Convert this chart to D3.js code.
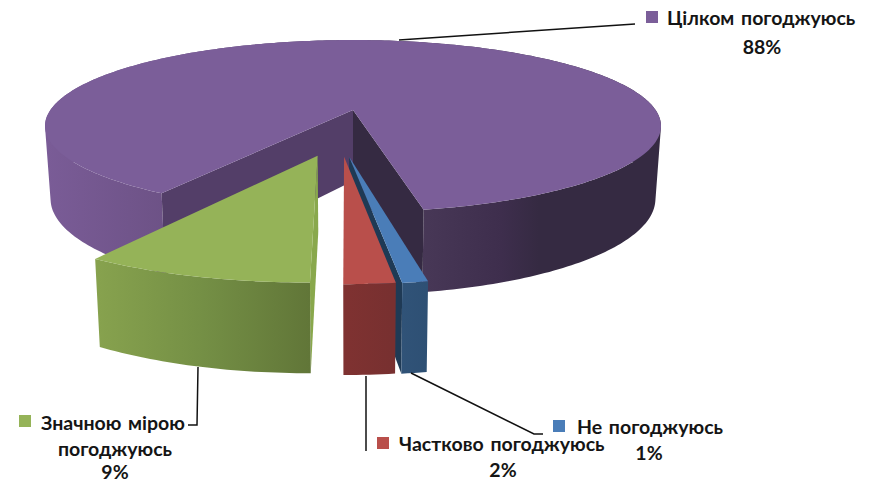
<!DOCTYPE html>
<html>
<head>
<meta charset="utf-8">
<script src="https://cdn.jsdelivr.net/npm/d3@7"></script>
<style>
  html, body { margin: 0; padding: 0; background: #fff; }
  text { font-family: Lato, "Open Sans", sans-serif; font-weight: 700; font-size: 19.5px; word-spacing: 2px; fill: #151515; }
</style>
</head>
<body>
<div id="chart"></div>
<script>
var categories = ["Цілком погоджуюсь", "Не погоджуюсь", "Частково погоджуюсь", "Значною мірою погоджуюсь"];
var values = [88, 1, 2, 9];
var percentLabels = ["88%", "1%", "2%", "9%"];

var width = 881, height = 483;
var tau = 2 * Math.PI;
var deg = Math.PI / 180;

// perspective set up of the pie plane, found by measuring the picture
var cx = 353, cy = 110;
var radiusX = 302.6, radiusY = 83, persp = 0.186;
var depth = 71, depthPersp = 0.75, shrink = 0.018;
var startDeg = 212.2;

// exploded slices: how far, and how much the direction leans off the bisector
var explode = [0, 0.51, 0.51, 0.51];
var explodeLean = [0, 10.5, 6.8, -4];

var topColors = ["#7b5e99", "#4a7db8", "#b94f4b", "#95b358"];
var innerColors = ["#352a42", "#1f3a55", "#6f2c2b", "#89a84c"];
var backWallColor = "#533e68";
var wallStops = [
  [[0, "#7a5c97"], [0.195, "#6d5286"], [0.608, "#483857"], [0.74, "#3e2e4d"], [0.8, "#352a42"], [1, "#352a42"]],
  [[0, "#315479"], [1, "#2e5074"]],
  [[0, "#7f3231"], [1, "#783030"]],
  [[0, "#87a24e"], [0.5, "#748f45"], [1, "#617638"]]
];
var wallRange = [[45, 662], [392, 426], [344, 390], [97, 310]];

var svg = d3.select("#chart").append("svg")
  .attr("width", width)
  .attr("height", height);

var defs = svg.append("defs");

// pie() gives the slice angles, clockwise from the far side of the plate
var pie = d3.pie().sort(null)
  .startAngle(startDeg * deg)
  .endAngle(startDeg * deg + tau);
var slices = pie(values);

slices.forEach(function(d, i) {
  var mid = (d.startAngle + d.endAngle) / 2 + explodeLean[i] * deg;
  d.ou = explode[i] * Math.sin(mid);
  d.ov = -explode[i] * Math.cos(mid);
});

// plate coordinates (u right, v towards the viewer, z down) to the screen
function project(u, v, z) {
  var w = 1 / (1 - persp * v);
  return [
    cx + radiusX * u * w * (1 - shrink * z),
    cy + radiusY * v * w + depth * z * Math.pow(w, depthPersp)
  ];
}

function rimPoint(d, a, z) {
  return project(d.ou + Math.sin(a), d.ov - Math.cos(a), z);
}

function apexPoint(d, z) {
  return project(d.ou, d.ov, z);
}

function rimPoints(d, z) {
  var n = Math.max(4, Math.ceil((d.endAngle - d.startAngle) / deg));
  return d3.range(n + 1).map(function(k) {
    return rimPoint(d, d.startAngle + (d.endAngle - d.startAngle) * k / n, z);
  });
}

function cutFace(d, a) {
  return [apexPoint(d, 0), rimPoint(d, a, 0), rimPoint(d, a, 1), apexPoint(d, 1)];
}

var line = d3.line().curve(d3.curveLinearClosed);

// the wall is one quad per step, all wound the same way, so the silhouette
// at the plate's left and right ends gets filled too
function wallPath(d) {
  var upper = rimPoints(d, 0), lower = rimPoints(d, 1);
  return d3.range(upper.length - 1).map(function(k) {
    var quad = [upper[k], upper[k + 1], lower[k + 1], lower[k]];
    if (d3.polygonArea(quad) < 0) quad.reverse();
    return line(quad);
  }).join("");
}

wallStops.forEach(function(stops, i) {
  var grad = defs.append("linearGradient")
    .attr("id", "wall-" + i)
    .attr("gradientUnits", "userSpaceOnUse")
    .attr("x1", wallRange[i][0]).attr("x2", wallRange[i][1])
    .attr("y1", 0).attr("y2", 0);
  grad.selectAll("stop")
    .data(stops)
    .enter()
    .append("stop")
    .attr("offset", function(s) { return s[0]; })
    .attr("stop-color", function(s) { return s[1]; });
});

// painter's order: purple plate, green, blue, then red over blue's wall
var drawOrder = [0, 3, 1, 2];

drawOrder.forEach(function(i) {
  var d = slices[i];
  var g = svg.append("g").attr("class", "slice");

  // cut faces
  if (i == 1) {
    g.append("path").attr("d", line(cutFace(d, d.endAngle))).attr("fill", innerColors[1]);
  } else if (i == 3) {
    g.append("path").attr("d", line(cutFace(d, d.startAngle))).attr("fill", innerColors[3]);
  }

  // outer wall
  g.append("path")
    .attr("d", wallPath(d))
    .attr("fill", "url(#wall-" + i + ")");

  // purple's cuts look into the gap, so they sit over its wall
  if (i == 0) {
    g.append("path").attr("d", line(cutFace(d, d.startAngle))).attr("fill", backWallColor);
    g.append("path").attr("d", line(cutFace(d, d.endAngle))).attr("fill", innerColors[0]);
  }

  // top face
  g.append("path")
    .attr("d", line([apexPoint(d, 0)].concat(rimPoints(d, 0))))
    .attr("fill", topColors[i]);
});

// leader lines
var leaders = [
  [[399, 40], [635, 24]],
  [[411, 373], [534, 434], [543, 434]],
  [[366, 376], [366, 451]],
  [[198, 367], [197, 425], [188, 425]]
];
svg.selectAll("path.leader")
  .data(leaders)
  .enter()
  .append("path")
  .attr("class", "leader")
  .attr("d", d3.line())
  .attr("fill", "none")
  .attr("stroke", "#111")
  .attr("stroke-width", 1.5);

// labels: key square, first line start, centred lines below
var labelLayout = [
  { key: [646, 11], lines: [[667, 25, "start", categories[0]], [762, 54, "middle", percentLabels[0]]] },
  { key: [553, 420], lines: [[577, 434, "start", categories[1]], [649, 460, "middle", percentLabels[1]]] },
  { key: [377, 437], lines: [[399, 451, "start", categories[2]], [503, 477, "middle", percentLabels[2]]] },
  { key: [19, 415], lines: [[41, 430, "start", "Значною мірою"], [115, 456, "middle", "погоджуюсь"], [115, 479, "middle", percentLabels[3]]] }
];

labelLayout.forEach(function(l, i) {
  svg.append("rect")
    .attr("x", l.key[0]).attr("y", l.key[1])
    .attr("width", 12).attr("height", 12)
    .attr("fill", topColors[i]);
  l.lines.forEach(function(t) {
    svg.append("text")
      .attr("x", t[0]).attr("y", t[1])
      .attr("text-anchor", t[2])
      .text(t[3]);
  });
});
</script>
</body>
</html>
